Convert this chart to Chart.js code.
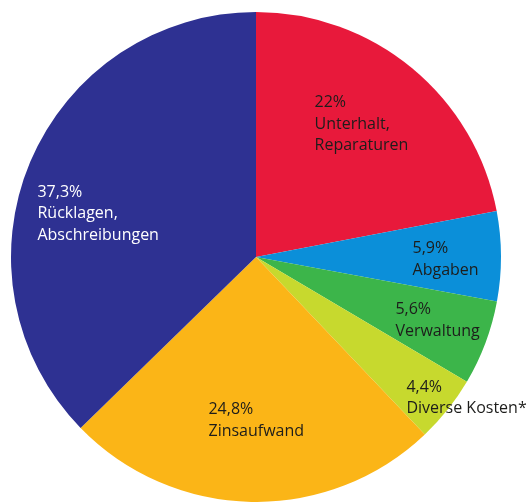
<!DOCTYPE html>
<html>
<head>
<meta charset="utf-8">
<script src="https://cdn.jsdelivr.net/npm/chart.js@4"></script>
<style>
  html, body { margin: 0; padding: 0; background: #fff; overflow: hidden; }
  #pie { display: block; }
</style>
</head>
<body>
<canvas id="pie" width="530" height="502"></canvas>
<script>
/* ------------ DATA ------------ */
const categories = [
  ['Unterhalt,', 'Reparaturen'],
  ['Abgaben'],
  ['Verwaltung'],
  ['Diverse Kosten*'],
  ['Zinsaufwand'],
  ['Rücklagen,', 'Abschreibungen']
];
const shares = [22, 5.9, 5.6, 4.4, 24.8, 37.3];

/* ------------ STYLE ------------ */
const sliceColors = ['#e8193b', '#0b8fd9', '#3cb54a', '#c7d92e', '#fbb517', '#2e3192'];
const textColors = ['#1d1d1b', '#1d1d1b', '#1d1d1b', '#1d1d1b', '#1d1d1b', '#ffffff'];
// label anchor (left edge, first baseline) as fraction of the radius from the centre
const labelAnchors = [
  [0.239, -0.612],
  [0.639, -0.016],
  [0.569, 0.233],
  [0.614, 0.551],
  [-0.194, 0.641],
  [-0.892, -0.245]
];
const fontSize = 16;
const lineHeight = 21.5;

const fmt = v => v.toString().replace('.', ',') + '%';

const sliceLabels = {
  id: 'sliceLabels',
  afterDatasetsDraw(chart) {
    const ctx = chart.ctx;
    const meta = chart.getDatasetMeta(0);
    ctx.save();
    ctx.font = `${fontSize}px "Open Sans", "Noto Sans", sans-serif`;
    ctx.textAlign = 'left';
    ctx.textBaseline = 'alphabetic';
    meta.data.forEach((arc, i) => {
      const r = arc.outerRadius;
      const x = arc.x + labelAnchors[i][0] * r;
      let y = arc.y + labelAnchors[i][1] * r;
      ctx.fillStyle = textColors[i];
      [fmt(shares[i]), ...categories[i]].forEach(line => {
        ctx.fillText(line, x, y);
        y += lineHeight;
      });
    });
    ctx.restore();
  }
};

new Chart(document.getElementById('pie'), {
  type: 'pie',
  data: {
    labels: categories.map(c => c.join(' ')),
    datasets: [{
      data: shares,
      backgroundColor: sliceColors,
      borderWidth: 0
    }]
  },
  options: {
    responsive: false,
    animation: false,
    layout: { padding: { left: 11, right: 29, top: 12, bottom: 0 } },
    plugins: { legend: { display: false }, tooltip: { enabled: false } }
  },
  plugins: [sliceLabels]
});
</script>
</body>
</html>
